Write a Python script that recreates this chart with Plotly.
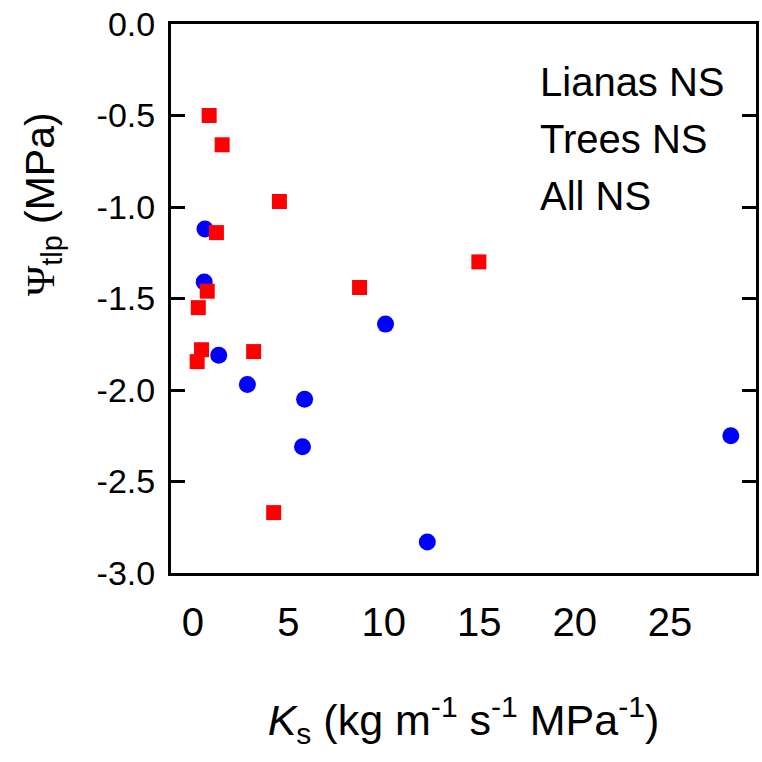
import plotly.graph_objects as go

# Lianas (blue circles)
lianas_ks = [0.63, 0.59, 1.35, 2.85, 5.85, 5.74, 10.09, 12.28, 28.18]
lianas_psi = [-1.12, -1.41, -1.81, -1.97, -2.05, -2.31, -1.64, -2.83, -2.25]

# Trees (red squares)
trees_ks = [0.85, 1.53, 4.53, 1.23, 0.75, 0.28, 0.45, 0.22, 3.18, 4.23, 8.73, 14.98]
trees_psi = [-0.50, -0.66, -0.97, -1.14, -1.46, -1.55, -1.78, -1.845, -1.79, -2.67, -1.44, -1.30]

x_tickvals = [0, 5, 10, 15, 20, 25]
x_ticktext = ["0", "5", "10", "15", "20", "25"]
y_tickvals = [0.0, -0.5, -1.0, -1.5, -2.0, -2.5, -3.0]
y_ticktext = ["0.0", "-0.5", "-1.0", "-1.5", "-2.0", "-2.5", "-3.0"]

stats_lines = ["Lianas NS", "Trees NS", "All NS"]

FONT = "Liberation Sans, Arial, sans-serif"

fig = go.Figure()
fig.add_trace(go.Scatter(
    x=lianas_ks, y=lianas_psi, mode="markers", name="Lianas",
    marker=dict(symbol="circle", size=17, color="#0000FF", line=dict(width=0)),
))
fig.add_trace(go.Scatter(
    x=trees_ks, y=trees_psi, mode="markers", name="Trees",
    marker=dict(symbol="square", size=15, color="#FF0000", line=dict(width=0)),
))

fig.update_layout(
    width=762, height=762,
    margin=dict(l=171, r=3, t=24, b=189),
    paper_bgcolor="white", plot_bgcolor="white",
    showlegend=False,
    font=dict(family=FONT, color="black"),
)

fig.update_xaxes(
    range=[-1.15, 29.5],
    tickvals=x_tickvals, ticktext=x_ticktext,
    showgrid=False, zeroline=False,
    showline=True, linecolor="black", linewidth=3, mirror=True,
    ticks="",
    tickfont=dict(size=40, family=FONT, color="black"),
    ticklabelstandoff=12,
    title=dict(
        text="<i>K</i><sub>s</sub> (kg m<sup>-1</sup> s<sup>-1</sup> MPa<sup>-1</sup>)",
        font=dict(size=43, family=FONT, color="black"),
        standoff=62,
    ),
)

fig.update_yaxes(
    range=[-3.0, 0.0],
    tickvals=y_tickvals, ticktext=y_ticktext,
    showgrid=False, zeroline=False,
    showline=True, linecolor="black", linewidth=3, mirror="ticks",
    ticks="inside", ticklen=14, tickwidth=3, tickcolor="black",
    tickfont=dict(size=34, family=FONT, color="black"),
    ticklabelstandoff=6,
)

# y-axis title as annotation (positioned above plot centre as in reference)
fig.add_annotation(
    text="<span style=\"font-family:'Liberation Serif', serif\">Ψ</span><sub>tlp</sub> (MPa)",
    xref="paper", yref="paper", x=-0.219, y=0.672,
    xanchor="center", yanchor="middle", textangle=-90, showarrow=False,
    font=dict(size=41, family=FONT, color="black"),
)

stats_y = [0.894, 0.7905, 0.6867]
for line, yy in zip(stats_lines, stats_y):
    fig.add_annotation(
        text=line, xref="paper", yref="paper", x=0.6276, y=yy,
        xanchor="left", yanchor="middle", showarrow=False,
        font=dict(size=40, family=FONT, color="black"),
    )

fig.write_html("out.html")
